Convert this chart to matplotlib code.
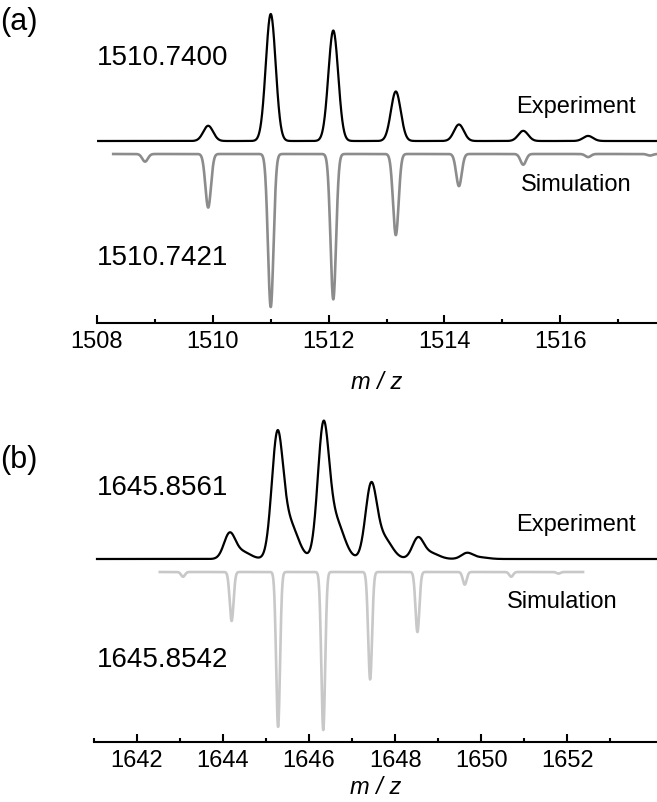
import numpy as np
import matplotlib.pyplot as plt

plt.rcParams['font.family'] = ['Liberation Sans', 'DejaVu Sans']

# (a) peak positions (m/z) and relative heights
a_exp_mz = [1509.92, 1511.00, 1512.08, 1513.16, 1514.25, 1515.36, 1516.48]
a_exp_int = [12, 100, 87, 39, 13, 8, 4]
a_sim_mz = [1508.83, 1509.92, 1511.00, 1512.08, 1513.16, 1514.25, 1515.36, 1516.48, 1517.55]
a_sim_int = [5, 35, 100, 95, 53, 21, 7, 2, 1]

# (b)
b_exp_mz = [1644.15, 1645.26, 1646.33, 1647.44, 1648.53, 1649.67]
b_exp_int = [17, 82, 88, 49, 14, 4]
b_sim_mz = [1643.07, 1644.20, 1645.28, 1646.33, 1647.42, 1648.52, 1649.62, 1650.70, 1651.80]
b_sim_int = [3, 31, 98, 100, 68, 38, 8, 3, 1]

W, H = 657, 803


def profile(x, centers, heights, sigma, tail=0.0):
    y = np.zeros_like(x)
    for c, h in zip(centers, heights):
        y += h * np.exp(-0.5 * ((x - c) / sigma) ** 2)
        if tail:
            y += tail * h * np.exp(-0.5 * ((x - c - 2.2 * sigma) / (1.5 * sigma)) ** 2)
    return y


def style_axis(ax, labelpad):
    for s in ['left', 'right', 'top']:
        ax.spines[s].set_visible(False)
    ax.spines['bottom'].set_linewidth(1.5)
    ax.set_yticks([])
    ax.tick_params(axis='x', which='major', direction='in', length=6, width=1.5,
                   labelsize=17, pad=5)
    ax.tick_params(axis='x', which='minor', direction='in', length=3, width=1.5)
    ax.set_xlabel('m / z', fontsize=17, style='italic', labelpad=labelpad)


fig = plt.figure(figsize=(W / 100, H / 100), dpi=100)

#--- (a)
ax1 = fig.add_axes([97 / W, 1 - 324 / H, 1 - 97 / W, 324 / H])
x = np.linspace(1508.02, 1517.7, 3000)
ax1.plot(x, 182 + 1.27 * profile(x, a_exp_mz, a_exp_int, 0.085),
         color='black', lw=1.6)
xs = np.linspace(1508.28, 1517.7, 3000)
ax1.plot(xs, 169 - 1.53 * profile(xs, a_sim_mz, a_sim_int, 0.048),
         color='#8c8c8c', lw=1.9)
ax1.set_xlim(1508, 1517.67)
ax1.set_ylim(0, 324)
ax1.set_xticks([1508, 1510, 1512, 1514, 1516])
ax1.set_xticks(np.arange(1509, 1518, 2), minor=True)
style_axis(ax1, 13)

#--- (b)
ax2 = fig.add_axes([94 / W, 1 - 743 / H, 1 - 94 / W, 343 / H])
x = np.linspace(1641.07, 1654.1, 3000)
ax2.plot(x, 183 + 1.42 * profile(x, b_exp_mz, b_exp_int, 0.13, tail=0.3),
         color='black', lw=1.6)
xs = np.linspace(1642.53, 1652.37, 3000)
ax2.plot(xs, 170 - 1.58 * profile(xs, b_sim_mz, b_sim_int, 0.045),
         color='#c8c8c8', lw=1.9)
ax2.set_xlim(1641, 1654.09)
ax2.set_ylim(0, 343)
ax2.set_xticks(np.arange(1642, 1654, 2))
ax2.set_xticks(np.arange(1641, 1655, 2), minor=True)
style_axis(ax2, 3)

# labels
def put(text, px, py, size):
    fig.text(px / W, 1 - py / H, text, fontsize=size, va='center', ha='left')

put('(a)', 0, 22, 22)
put('1510.7400', 97, 58, 20)
put('Experiment', 516, 107, 17)
put('Simulation', 521, 185, 17)
put('1510.7421', 97, 258, 20)

put('(b)', 0, 460, 22)
put('1645.8561', 97, 488, 20)
put('Experiment', 516, 525, 17)
put('Simulation', 507, 602, 17)
put('1645.8542', 97, 660, 20)

fig.savefig('out.png', dpi=100)
